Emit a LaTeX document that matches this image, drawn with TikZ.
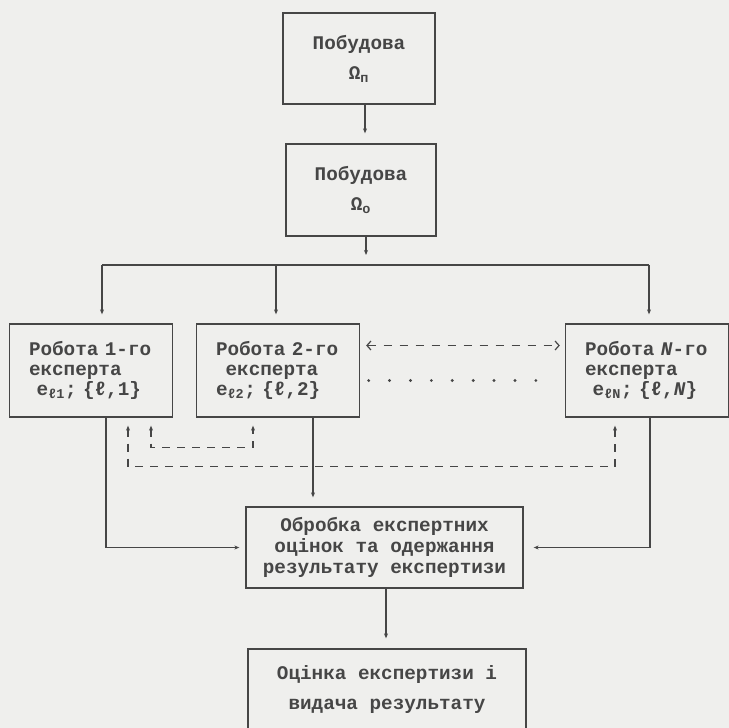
\documentclass[tikz,border=0pt]{standalone}
\usepackage{fontspec}
\setmainfont{Liberation Mono}
\usepackage{tikz}
\usetikzlibrary{arrows.meta,positioning}
\usepackage{xcolor}
\definecolor{paper}{RGB}{239,239,237}
\definecolor{ink}{RGB}{70,70,70}

\begin{document}
\begin{tikzpicture}[
    x=1pt, y=1pt,
    block/.style={rectangle, draw=ink, line width=1.3pt, inner sep=0pt,
        font=\fontsize{19.3}{20}\selectfont\bfseries, text=ink, align=center},
    expert/.style={block, minimum width=163pt, minimum height=93pt,
        text width=124pt, align=left},
    wire/.style={draw=ink, line width=1.2pt},
    conn/.style={wire, ->},
    feed/.style={wire, <->, dash pattern=on 8pt off 7pt},
    dasharr/.style={wire, dash pattern=on 8pt off 8pt,
        {Straight Barb[length=4pt,width=9pt]}-{Straight Barb[length=4pt,width=9pt]}},
    dotline/.style={draw=ink, line width=3.2pt, line cap=round, dash pattern=on 0pt off 20.9pt},
    >={Stealth[length=5pt,width=4pt]}
]
\clip (0,0) rectangle (729,-728);
\fill[paper] (0,0) rectangle (729,-728);

% building of the sets
\node[block, minimum width=152pt, minimum height=91pt] (build1) at (359,-58.5) {Побудова\\[10pt]Ω\textsubscript{п}};
\node[block, minimum width=150pt, minimum height=92pt] (build2) at (361,-190) {Побудова\\[10pt]Ω\textsubscript{о}};
\coordinate (split) at (366,-265);

% experts
\node[expert] (e1) at (91,-370.5) {Робота 1-го\\експерта\\\hspace*{0.4em}e\textsubscript{ℓ1}; \{ℓ,1\}};
\node[expert] (e2) at (278,-370.5) {Робота 2-го\\\hspace*{0.5em}експерта\\e\textsubscript{ℓ2}; \{ℓ,2\}};
\node[expert] (eN) at (647,-370.5) {Робота \textit{N}-го\\експерта\\\hspace*{0.4em}e\textsubscript{ℓN}; \{ℓ,\textit{N}\}};

% processing and result
\node[block, minimum width=277pt, minimum height=81pt, font=\fontsize{19.3}{21}\selectfont\bfseries] (proc) at (384.5,-547.5) {Обробка експертних\\оцінок та одержання\\результату експертизи};
\node[block, minimum width=278pt, minimum height=82pt, font=\fontsize{19.3}{30}\selectfont\bfseries] (final) at (387,-690) {Оцінка експертизи і\\видача результату};

\draw[conn, shorten >=10pt] ([xshift=6pt]build1.south) -- ([xshift=6pt]build1.south |- build2.north);
\draw[conn, shorten >=10pt] (build2.south -| split) -- (split);
\draw[wire] ([xshift=11pt]e1.north |- split) -- ([xshift=2pt]eN.north |- split);
\draw[conn, shorten >=9pt] ([xshift=11pt]e1.north |- split) -- ([xshift=11pt]e1.north);
\draw[conn, shorten >=9pt] ([xshift=-2pt]e2.north |- split) -- ([xshift=-2pt]e2.north);
\draw[conn, shorten >=9pt] ([xshift=2pt]eN.north |- split) -- ([xshift=2pt]eN.north);

\draw[dasharr, shorten <=6pt, shorten >=5pt] ([yshift=25pt]e2.east) -- ([yshift=25pt]eN.west);
\draw[dotline, shorten <=8.5pt, shorten >=9.5pt] ([yshift=-10pt]e2.east) -- ([yshift=-10pt]eN.west);

% feedback between experts
\draw[feed] ([shift={(60pt,-8pt)}]e1.south) -- ++(0,-22pt) -| ([shift={(-25pt,-8pt)}]e2.south);
\draw[feed] ([shift={(37pt,-8pt)}]e1.south) -- ++(0,-41pt) -| ([shift={(-32pt,-8pt)}]eN.south);

\draw[conn, shorten >=6pt] ([xshift=15pt]e1.south) |- (proc.west);
\draw[conn, shorten >=9pt] ([xshift=35pt]e2.south) -- ([xshift=35pt]e2.south |- proc.north);
\draw[conn, shorten >=10pt] ([xshift=3pt]eN.south) |- (proc.east);
\draw[conn, shorten >=10pt] ([xshift=1.5pt]proc.south) -- ([xshift=1.5pt]proc.south |- final.north);
\end{tikzpicture}
\end{document}
